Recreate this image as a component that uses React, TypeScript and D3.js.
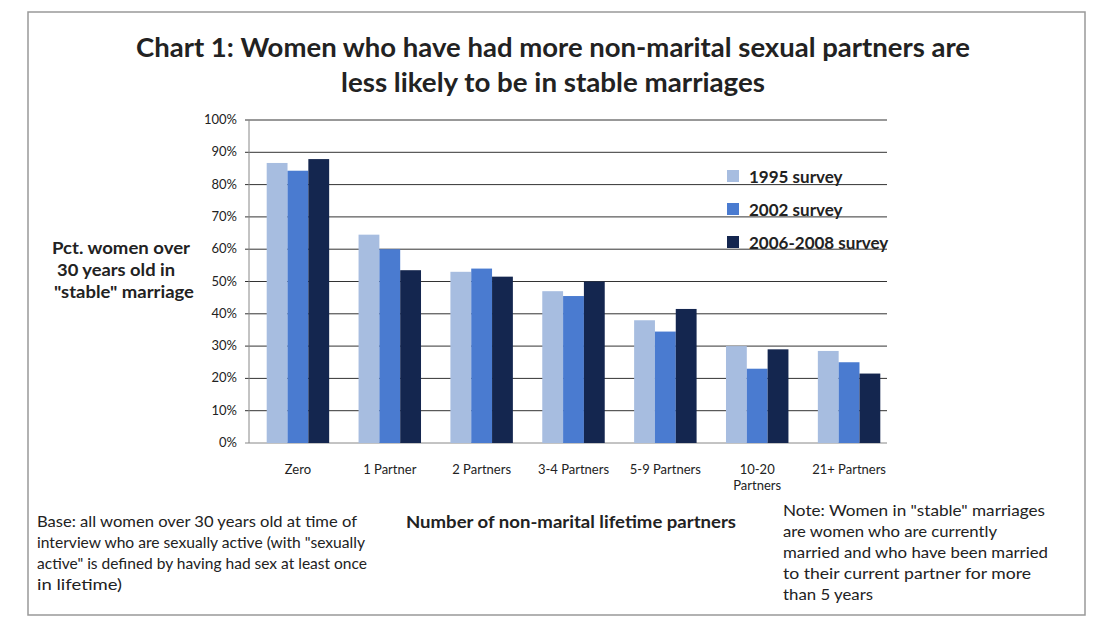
import React from "react";
import * as d3 from "d3";

const categories = ["Zero", "1 Partner", "2 Partners", "3-4 Partners", "5-9 Partners", "10-20 Partners", "21+ Partners"];
const seriesNames = ["1995 survey", "2002 survey", "2006-2008 survey"];
const s1995 = [86.7, 64.5, 53, 47, 38, 30, 28.5];
const s2002 = [84.3, 60, 54, 45.5, 34.5, 23, 25];
const s2006 = [87.9, 53.5, 51.5, 50, 41.5, 29, 21.5];
const yTicks = [0, 10, 20, 30, 40, 50, 60, 70, 80, 90, 100];
const colors = ["#a7bde0", "#4a7bd0", "#14264f"];

function T(props: any) {
  const { w, children, ...rest } = props;
  return <text {...rest} textLength={w} lengthAdjust="spacingAndGlyphs">{children}</text>;
}

export default function App() {
  const series = [s1995, s2002, s2006];
  const x = d3.scaleBand().domain(categories).range([252, 895]).paddingInner(0.32).paddingOuter(0.16);
  const xi = d3.scaleBand().domain(seriesNames).range([0, x.bandwidth()]);
  const y = d3.scaleLinear().domain([0, 100]).range([443, 120]);
  const font = "Lato, 'Open Sans', sans-serif";
  const cx = (c: string) => (x(c) || 0) + x.bandwidth() / 2;
  return (
    <svg width={1102} height={628} style={{ position: "absolute", left: 0, top: 0, background: "#fff" }} fontFamily={font}>
      <rect x={28} y={12} width={1057} height={603} fill="#fff" stroke="#999" strokeWidth={1.5} />
      <T x={136} y={57} w={834} fontSize={27} fontWeight="bold" fill="#222">Chart 1: Women who have had more non-marital sexual partners are</T>
      <T x={341} y={92} w={424} fontSize={27} fontWeight="bold" fill="#222">less likely to be in stable marriages</T>
      {yTicks.map(t => (
        <g key={t}>
          <line x1={245} x2={887} y1={y(t)} y2={y(t)} stroke={t === 0 ? "#888" : "#333"} strokeWidth={1} />
          <text x={237} y={y(t) + 4} textAnchor="end" fontSize={13} fill="#222">{t}%</text>
        </g>
      ))}
      <line x1={249} x2={249} y1={120} y2={443} stroke="#888" />
      {categories.map((c, i) => (
        <g key={c}>
          {series.map((s, j) => (
            <rect key={j} x={(x(c) || 0) + (xi(seriesNames[j]) || 0)} y={y(s[i])} width={xi.bandwidth()} height={443 - y(s[i])} fill={colors[j]} />
          ))}
          {c === "10-20 Partners" ? (
            <text x={cx(c)} y={474} textAnchor="middle" fontSize={13} fill="#222">
              <tspan x={cx(c)}>10-20</tspan>
              <tspan x={cx(c)} dy={16}>Partners</tspan>
            </text>
          ) : (
            <text x={cx(c)} y={474} textAnchor="middle" fontSize={13} fill="#222">{c}</text>
          )}
        </g>
      ))}
      {seriesNames.map((n, j) => (
        <g key={n}>
          <rect x={727} y={170 + j * 33} width={12} height={12} fill={colors[j]} />
          <text x={749} y={183 + j * 33} fontSize={17} fontWeight="bold" fill="#222">{n}</text>
        </g>
      ))}
      <g fontSize={17} fontWeight="bold" fill="#222">
        <T x={52} y={254} w={138}>Pct. women over</T>
        <T x={57} y={276} w={118}>30 years  old in</T>
        <T x={54} y={298} w={140}>"stable" marriage</T>
      </g>
      <T x={406} y={528} w={330} fontSize={17} fontWeight="bold" fill="#222">Number of non-marital lifetime partners</T>
      <g fontSize={15} fill="#222">
        <T x={37} y={527} w={320}>Base: all women over 30 years old at time of</T>
        <T x={37} y={548} w={328}>interview who are sexually active (with "sexually</T>
        <T x={37} y={569} w={330}>active" is defined by having had sex at least once</T>
        <T x={37} y={590} w={85}>in lifetime)</T>
        <T x={783} y={516} w={262}>Note: Women in "stable" marriages</T>
        <T x={783} y={537} w={214}>are women who are currently</T>
        <T x={783} y={558} w={265}>married and who have been married</T>
        <T x={783} y={579} w={248}>to their current partner for more</T>
        <T x={783} y={600} w={90}>than 5 years</T>
      </g>
    </svg>
  );
}
